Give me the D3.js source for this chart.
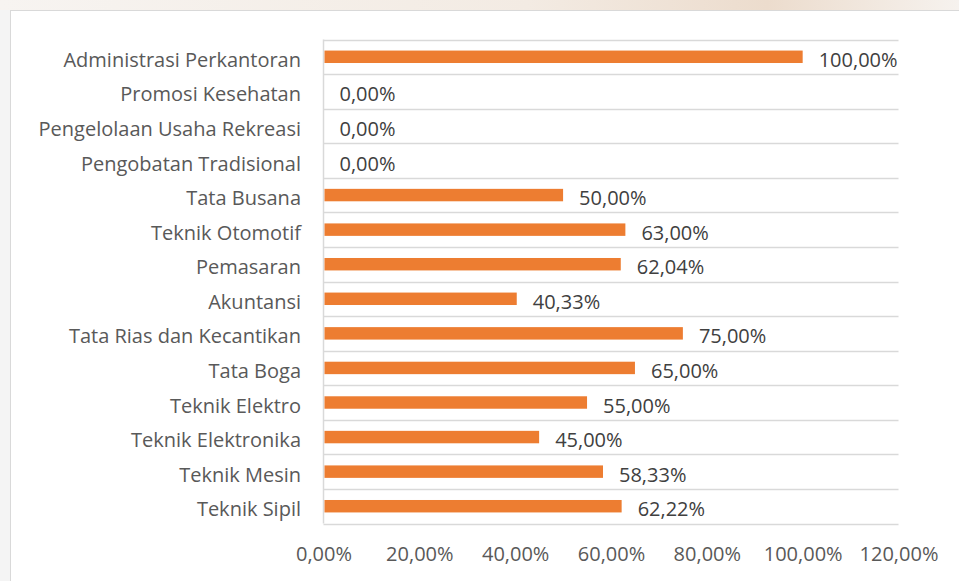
<!DOCTYPE html>
<html>
<head>
<meta charset="utf-8">
<script src="https://d3js.org/d3.v7.min.js"></script>
<style>
  html, body { margin: 0; padding: 0; background: #fff; }
  svg { display: block; font-family: "Open Sans", Lato, sans-serif; }
</style>
</head>
<body>
<div id="chart"></div>
<script>
  // data, top to bottom
  const categories = [
    "Administrasi Perkantoran",
    "Promosi Kesehatan",
    "Pengelolaan Usaha Rekreasi",
    "Pengobatan Tradisional",
    "Tata Busana",
    "Teknik Otomotif",
    "Pemasaran",
    "Akuntansi",
    "Tata Rias dan Kecantikan",
    "Tata Boga",
    "Teknik Elektro",
    "Teknik Elektronika",
    "Teknik Mesin",
    "Teknik Sipil",
  ];
  const values = [100, 0, 0, 0, 50, 63, 62.04, 40.33, 75, 65, 55, 45, 58.33, 62.22];
  const xTicks = [0, 20, 40, 60, 80, 100, 120];

  const width = 959,
    height = 581;
  const fontSize = 20;
  const fmt = (v) => v.toFixed(2).replace(".", ",") + "%";

  const svg = d3
    .select("#chart")
    .append("svg")
    .attr("width", width)
    .attr("height", height);

  // faint backdrop peeking out above and left of the chart frame
  const defs = svg.append("defs");
  const grad = defs
    .append("linearGradient")
    .attr("id", "topfade")
    .attr("x1", 0)
    .attr("x2", 1);
  grad.append("stop").attr("offset", "0%").attr("stop-color", "#f7f4f1");
  grad.append("stop").attr("offset", "55%").attr("stop-color", "#f3ebe3");
  grad.append("stop").attr("offset", "80%").attr("stop-color", "#ecdccd");
  grad.append("stop").attr("offset", "100%").attr("stop-color", "#f6f2ee");

  svg.append("rect").attr("width", width).attr("height", 10).attr("fill", "url(#topfade)");
  svg.append("rect").attr("y", 10).attr("width", 10).attr("height", height - 10).attr("fill", "#f4f4f4");

  // chart frame
  svg
    .append("rect")
    .attr("x", 10.5)
    .attr("y", 10.5)
    .attr("width", width)
    .attr("height", height)
    .attr("fill", "#fff")
    .attr("stroke", "#d9d9d9");

  const x = d3.scaleLinear().domain([0, 120]).range([323.5, 898.5]);
  const y = d3
    .scaleBand()
    .domain(categories)
    .range([39.5, 523.5])
    .paddingInner(0.64)
    .paddingOuter(0.32);
  const step = y.step();

  // horizontal separators between categories
  const lines = d3.range(categories.length + 1).map((i) => 39.5 + i * step);
  svg
    .selectAll("line.grid")
    .data(lines)
    .enter()
    .append("line")
    .attr("class", "grid")
    .attr("x1", x(0))
    .attr("x2", x(120))
    .attr("y1", (d) => Math.round(d) + 0.5)
    .attr("y2", (d) => Math.round(d) + 0.5)
    .attr("stroke", "#d9d9d9")
    .attr("stroke-width", 1.5);

  // vertical axis line
  svg
    .append("line")
    .attr("x1", x(0))
    .attr("x2", x(0))
    .attr("y1", 39.5)
    .attr("y2", 39.5 + categories.length * step)
    .attr("stroke", "#d9d9d9")
    .attr("stroke-width", 1.5);

  // bars
  svg
    .selectAll("rect.bar")
    .data(values)
    .enter()
    .append("rect")
    .attr("class", "bar")
    .attr("x", x(0) + 1)
    .attr("y", (d, i) => y(categories[i]))
    .attr("width", (d) => Math.max(0, x(d) - x(0) - 1))
    .attr("height", y.bandwidth())
    .attr("fill", "#ed7d31");

  // data labels
  svg
    .selectAll("text.val")
    .data(values)
    .enter()
    .append("text")
    .attr("class", "val")
    .attr("x", (d) => x(d) + 16)
    .attr("y", (d, i) => y(categories[i]) + y.bandwidth() / 2 + 10)
    .attr("font-size", fontSize)
    .attr("fill", "#404040")
    .text((d) => fmt(d));

  // category labels
  svg
    .selectAll("text.cat")
    .data(categories)
    .enter()
    .append("text")
    .attr("class", "cat")
    .attr("x", 301)
    .attr("y", (d) => y(d) + y.bandwidth() / 2 + 10)
    .attr("text-anchor", "end")
    .attr("font-size", fontSize)
    .attr("fill", "#595959")
    .text((d) => d);

  // x axis tick labels
  const xAxis = d3
    .axisBottom(x)
    .tickValues(xTicks)
    .tickFormat((d) => fmt(d))
    .tickSize(0)
    .tickPadding(0);
  const gx = svg.append("g").attr("transform", "translate(0,547)").call(xAxis);
  gx.select(".domain").remove();
  gx.selectAll("text")
    .attr("font-size", fontSize)
    .attr("font-family", "'Open Sans', sans-serif")
    .attr("fill", "#595959");
</script>
</body>
</html>
